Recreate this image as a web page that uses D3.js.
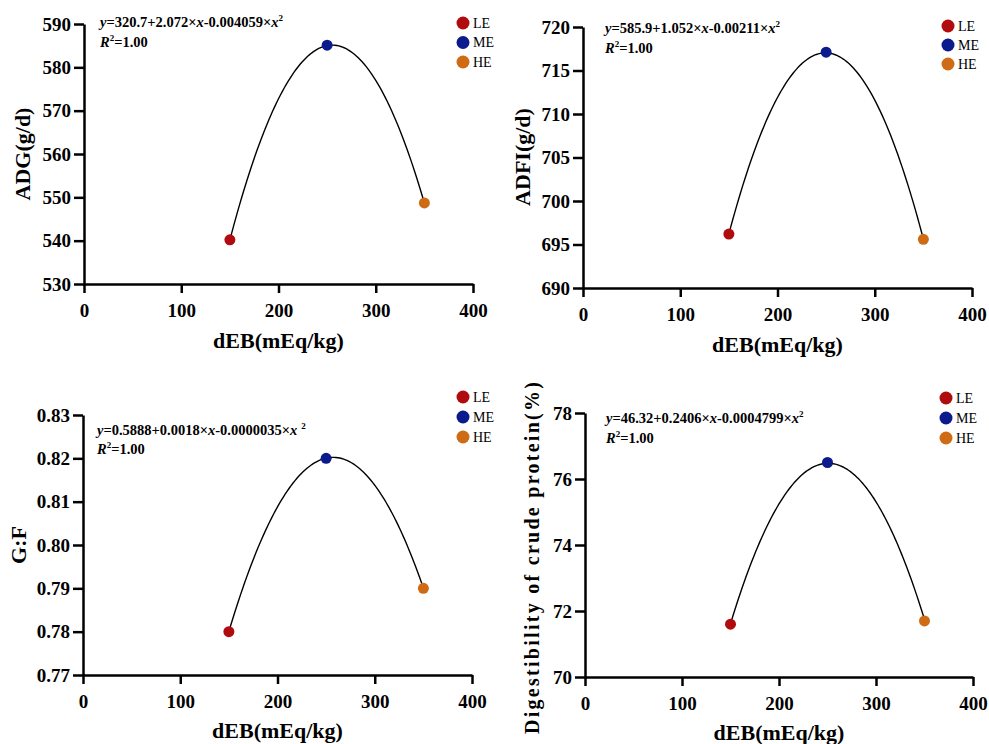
<!DOCTYPE html>
<html>
<head>
<meta charset="utf-8">
<script src="https://cdn.jsdelivr.net/npm/d3@7"></script>
<style>
	body { margin: 0; background: #fff; }
	text { font-family: "Liberation Serif", "Times New Roman", serif; }
	.axis path, .axis line { stroke: #000; stroke-width: 2.5px; }
	.axis text { font-size: 19px; font-weight: bold; fill: #000; }
	.fit { fill: none; stroke: #000; stroke-width: 1.4px; }
	.title { font-size: 22px; font-weight: bold; }
	.eq { font-size: 14.5px; font-weight: bold; }
	.legendText { font-size: 14px; }
</style>
</head>
<body>
<script>
(function(){

	//data
	var groups = ["LE", "ME", "HE"];
	var groupColors = ["#B00B0E", "#0B1A8C", "#CF6B14"];
	var dEB = [150, 250, 350];
	var xTicks = [0, 100, 200, 300, 400];

	var adg = [540.2, 585.1, 548.7];
	var adfi = [696.2, 717.1, 695.6];
	var gf = [0.780, 0.820, 0.790];
	var dcp = [71.6, 76.5, 71.7];

	//quadratic fit coefficients [a, b, c] printed on each panel
	var adgFit = [320.7, 2.072, -0.004059];
	var adfiFit = [585.9, 1.052, -0.00211];
	var gfFit = [0.5888, 0.0018, -0.0000035];
	var dcpFit = [46.32, 0.2406, -0.0004799];

	var adgTicks = [530, 540, 550, 560, 570, 580, 590];
	var adfiTicks = [690, 695, 700, 705, 710, 715, 720];
	var gfTicks = [0.77, 0.78, 0.79, 0.80, 0.81, 0.82, 0.83];
	var dcpTicks = [70, 72, 74, 76, 78];

	var svg = d3.select("body")
		.append("svg")
		.attr("width", 989)
		.attr("height", 744);

	//panel frames and text positions
	var panels = [
		{values: adg, fit: adgFit, ticks: adgTicks, fmt: d3.format("d"), yLabel: "ADG(g/d)",
			coef: ["320.7", "2.072", "0.004059"],
			left: 84, right: 473, top: 24, bottom: 284,
			eqX: 100, eqY: 27, rY: 47, legX: 463, legY: 23, legStep: 19.5,
			yTitleX: 22, yTitleY: 154, xTitleY: 348},
		{values: adfi, fit: adfiFit, ticks: adfiTicks, fmt: d3.format("d"), yLabel: "ADFI(g/d)",
			coef: ["585.9", "1.052", "0.00211"],
			left: 583, right: 972, top: 27, bottom: 288,
			eqX: 605, eqY: 33, rY: 53, legX: 948, legY: 26, legStep: 19,
			yTitleX: 522, yTitleY: 157, xTitleY: 352},
		{values: gf, fit: gfFit, ticks: gfTicks, fmt: d3.format(".2f"), yLabel: "G:F",
			coef: ["0.5888", "0.0018", "0.0000035"], supGap: 4,
			left: 83, right: 472, top: 415, bottom: 675,
			eqX: 97, eqY: 435, rY: 454, legX: 463, legY: 397, legStep: 20,
			yTitleX: 18, yTitleY: 545, xTitleY: 738},
		{values: dcp, fit: dcpFit, ticks: dcpTicks, fmt: d3.format("d"), yLabel: "Digestibility of crude protein(%)",
			coef: ["46.32", "0.2406", "0.0004799"], yLen: 352,
			left: 585, right: 973, top: 413, bottom: 677,
			eqX: 606, eqY: 423, rY: 443, legX: 946, legY: 398, legStep: 20,
			yTitleX: 532, yTitleY: 558, xTitleY: 740}
	];

	panels.forEach(drawPanel);

	function drawPanel(p){
		var g = svg.append("g");

		var x = d3.scaleLinear()
			.domain([xTicks[0], xTicks[xTicks.length - 1]])
			.range([p.left, p.right]);
		var y = d3.scaleLinear()
			.domain([p.ticks[0], p.ticks[p.ticks.length - 1]])
			.range([p.bottom, p.top]);

		//axes
		g.append("g")
			.attr("class", "axis")
			.attr("transform", "translate(0," + p.bottom + ")")
			.call(d3.axisBottom(x).tickValues(xTicks).tickSize(9).tickSizeOuter(0).tickPadding(11));
		g.append("g")
			.attr("class", "axis")
			.attr("transform", "translate(" + p.left + ",0)")
			.call(d3.axisLeft(y).tickValues(p.ticks).tickFormat(p.fmt).tickSize(10).tickSizeOuter(0).tickPadding(3));

		//fitted quadratic between the first and last group
		var xs = d3.range(dEB[0], dEB[dEB.length - 1] + 0.5, 2);
		var line = d3.line()
			.x(function(d){ return x(d); })
			.y(function(d){ return y(p.fit[0] + p.fit[1] * d + p.fit[2] * d * d); });
		g.append("path")
			.datum(xs)
			.attr("class", "fit")
			.attr("d", line);

		//group means
		g.selectAll(".dot")
			.data(p.values)
			.enter()
			.append("circle")
			.attr("class", "dot")
			.attr("cx", function(d, i){ return x(dEB[i]); })
			.attr("cy", function(d){ return y(d); })
			.attr("r", 5.5)
			.style("fill", function(d, i){ return groupColors[i]; });

		//equation
		var eq = g.append("text")
			.attr("class", "eq")
			.attr("x", p.eqX)
			.attr("y", p.eqY);
		eq.append("tspan").style("font-style", "italic").text("y");
		eq.append("tspan").text("=" + p.coef[0] + "+" + p.coef[1] + "\u00d7");
		eq.append("tspan").style("font-style", "italic").text("x");
		eq.append("tspan").text("-" + p.coef[2] + "\u00d7");
		eq.append("tspan").style("font-style", "italic").text("x");
		eq.append("tspan").attr("dy", -6).attr("dx", p.supGap || 0).style("font-size", "9px").text("2");

		var r2 = g.append("text")
			.attr("class", "eq")
			.attr("x", p.eqX)
			.attr("y", p.rY);
		r2.append("tspan").style("font-style", "italic").text("R");
		r2.append("tspan").attr("dy", -6).style("font-size", "9px").text("2");
		r2.append("tspan").attr("dy", 6).text("=1.00");

		//legend
		var leg = g.selectAll(".leg")
			.data(groups)
			.enter()
			.append("g")
			.attr("transform", function(d, i){
				return "translate(" + p.legX + "," + (p.legY + i * p.legStep) + ")";
			});
		leg.append("circle")
			.attr("r", 6.5)
			.style("fill", function(d, i){ return groupColors[i]; });
		leg.append("text")
			.attr("class", "legendText")
			.attr("x", 10)
			.attr("dy", "0.35em")
			.text(function(d){ return d; });

		//axis titles
		g.append("text")
			.attr("class", "title")
			.attr("x", (p.left + p.right) / 2)
			.attr("y", p.xTitleY)
			.attr("text-anchor", "middle")
			.text("dEB(mEq/kg)");

		var yt = g.append("text")
			.attr("class", "title")
			.attr("transform", "translate(" + p.yTitleX + "," + p.yTitleY + ") rotate(-90)")
			.attr("text-anchor", "middle")
			.attr("dy", "0.35em")
			.text(p.yLabel);
		if (p.yLen) {
			yt.style("font-size", "20px")
				.attr("textLength", p.yLen)
				.attr("lengthAdjust", "spacing");
		}
	};
})();
</script>
</body>
</html>
